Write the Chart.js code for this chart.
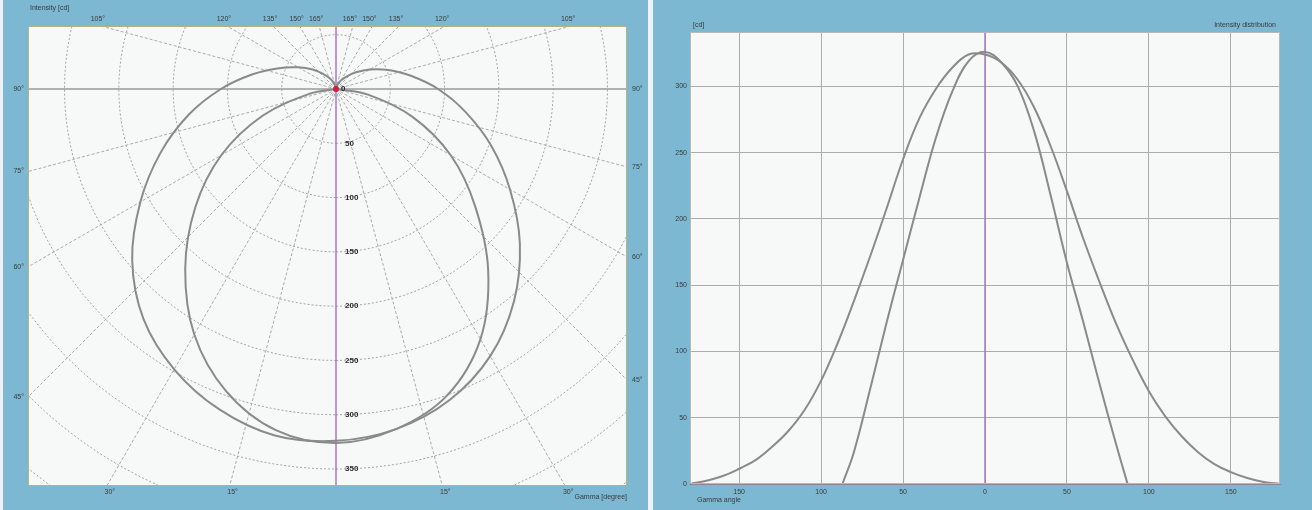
<!DOCTYPE html>
<html>
<head>
<meta charset="utf-8">
<script src="https://cdn.jsdelivr.net/npm/chart.js@4.4.0/dist/chart.umd.min.js"></script>
<style>
  html, body { margin:0; padding:0; background:#eef2f4; }
  #wrap { position:relative; width:1312px; height:510px; overflow:hidden; }
  .panel { position:absolute; top:0; height:510px; background:#7db8d2; }
  #izq { left:3px; width:645px; }
  #der { left:653px; width:659px; }
  canvas { display:block; }
</style>
</head>
<body>
<div id="wrap">
  <div class="panel" id="izq"><canvas id="polar" width="645" height="510"></canvas></div>
  <div class="panel" id="der"><canvas id="curvas" width="659" height="510"></canvas></div>
</div>
<script>
// datos (gamma en grados, intensidad en cd)
const gammaWide = [-180,-170,-160,-150,-140,-130,-120,-110,-100,-90,-80,-70,-60,-50,-40,-30,-20,-10,0,10,20,30,40,50,60,70,80,90,100,110,120,130,140,150,160,170,180];
const intensityWide = [0,2.5,6,11.5,18,28,40,56,78,106,138,172,208,245,276,298,314,324,324,318,305,284,255,221,185,152,121,94,70,51,36,24,15,9,4.5,1.5,0];
const gammaNarrow = [-87,-80,-70,-60,-50,-40,-30,-20,-10,0,10,20,30,40,50,60,70,80,87];
const intensityNarrow = [0,24,72,122,169,216,261,296,319,326,318,300,266,218,167,122,75,30,0];

const ringValues = [50,100,150,200,250,300,350,400,450];
const ringLabels = [0,50,100,150,200,250,300,350];
const spokeAngles = [0,15,30,45,60,75,90,105,120,135,150,165,180];
const xTicks = [-150,-100,-50,0,50,100,150];
const yTicks = [0,50,100,150,200,250,300];
const Y_MAX = 341;

const GRIS = "#8a8a8a";
const MORADO = "#a878c8";
const TEXTO = "#3a3a3a";
const FUENTE = "'Liberation Sans', Arial, sans-serif";

$inicio();

function $inicio() {
    dibujarPolar();
    dibujarCurvas();
}

function rad(g) { return g * Math.PI / 180; }
function aXY(g, i) { return { x: i * Math.sin(rad(g)), y: -i * Math.cos(rad(g)) }; }

function dibujarPolar() {
    // area de trazado en px del lienzo y escala px por cd
    const K = 1.086, CX = 333, CY = 89;
    const A = { left: 25, right: 624, top: 26, bottom: 486 };

    const sets = [];
    sets.push({ data: gammaWide.map((g, i) => aXY(g, intensityWide[i])), borderColor: GRIS, borderWidth: 2, tension: 0.35, order: 1 });
    sets.push({ data: gammaNarrow.map((g, i) => aXY(g, intensityNarrow[i])), borderColor: GRIS, borderWidth: 2, tension: 0.35, order: 1 });
    sets.push({ data: [{ x: 0, y: 80 }, { x: 0, y: -400 }], borderColor: MORADO, borderWidth: 1.5, order: 2 });
    sets.push({ data: [{ x: 0, y: 0 }], pointRadius: 3, pointBackgroundColor: "#d0203a", pointBorderWidth: 0, order: 0 });
    ringValues.forEach(r => {
        const pts = [];
        for (let g = 0; g <= 360; g += 3) pts.push(aXY(g, r));
        sets.push({ data: pts, borderColor: "#a4a4a4", borderWidth: 1, borderDash: [2, 2], order: 5 });
    });
    spokeAngles.forEach(a => {
        if (a === 0 || a === 180) return;
        [-1, 1].forEach(s => {
            sets.push({
                data: [{ x: 0, y: 0 }, aXY(s * a, 700)],
                borderColor: a === 90 ? "#9a9a9a" : "#aaaaaa",
                borderWidth: a === 90 ? 1.5 : 1,
                borderDash: a === 90 ? [] : [3, 2],
                order: 5
            });
        });
    });
    sets.forEach(d => { d.showLine = true; if (d.pointRadius === undefined) d.pointRadius = 0; });

    const etiquetas = {
        id: "etiquetas",
        beforeDraw(chart) {
            const c = chart.ctx, ca = chart.chartArea;
            c.save();
            c.fillStyle = "#f7f8f8";
            c.fillRect(ca.left, ca.top, ca.right - ca.left, ca.bottom - ca.top);
            c.restore();
        },
        afterDraw(chart) {
            const c = chart.ctx, ca = chart.chartArea;
            const sx = chart.scales.x, sy = chart.scales.y;
            const cx = sx.getPixelForValue(0), cy = sy.getPixelForValue(0);
            c.save();
            c.strokeStyle = "#b9b37a";
            c.lineWidth = 1;
            c.strokeRect(ca.left + 0.5, ca.top + 0.5, ca.right - ca.left - 1, ca.bottom - ca.top - 1);

            // valores radiales
            c.font = "bold 8px " + FUENTE;
            c.fillStyle = "#2a2a2a";
            c.textBaseline = "middle";
            c.textAlign = "left";
            ringLabels.forEach(v => {
                const py = sy.getPixelForValue(-v);
                if (py < ca.bottom - 4) c.fillText(String(v), cx + (v === 0 ? 5 : 9), py);
            });

            // angulos en los bordes
            c.font = "7px " + FUENTE;
            c.fillStyle = TEXTO;
            spokeAngles.forEach(a => {
                if (a === 0 || a === 180) return;
                [-1, 1].forEach(s => {
                    const dx = s * Math.sin(rad(a)), dy = Math.cos(rad(a));
                    const tx = dx > 0 ? (ca.right - cx) / dx : (ca.left - cx) / dx;
                    const ty = dy > 1e-9 ? (ca.bottom - cy) / dy : dy < -1e-9 ? (ca.top - cy) / dy : Infinity;
                    const txt = a + "°";
                    if (tx <= ty) {
                        const py = cy + tx * dy;
                        c.textBaseline = "middle";
                        if (s < 0) { c.textAlign = "right"; c.fillText(txt, ca.left - 4, py); }
                        else { c.textAlign = "left"; c.fillText(txt, ca.right + 5, py); }
                    } else {
                        const px = cx + ty * dx;
                        c.textAlign = "center";
                        if (dy > 0) { c.textBaseline = "top"; c.fillText(txt, px + 3, ca.bottom + 3); }
                        else { c.textBaseline = "bottom"; c.fillText(txt, px - 3, ca.top - 3); }
                    }
                });
            });

            c.textBaseline = "middle";
            c.textAlign = "left";
            c.fillText("Intensity [cd]", 27, 8);
            c.textAlign = "right";
            c.fillText("Gamma [degree]", 624, 497);
            c.restore();
        }
    };

    new Chart(document.getElementById("polar"), {
        type: "scatter",
        data: { datasets: sets },
        options: {
            responsive: false,
            animation: false,
            layout: { padding: { left: A.left, right: 645 - A.right, top: A.top, bottom: 510 - A.bottom } },
            plugins: { legend: { display: false }, tooltip: { enabled: false } },
            scales: {
                x: { type: "linear", display: false, min: (A.left - CX) / K, max: (A.right - CX) / K },
                y: { type: "linear", display: false, min: -(A.bottom - CY) / K, max: (CY - A.top) / K }
            }
        },
        plugins: [etiquetas]
    });
}

function dibujarCurvas() {
    const marco = {
        id: "marco",
        beforeDraw(chart) {
            const c = chart.ctx, ca = chart.chartArea;
            c.save();
            c.fillStyle = "#f7f8f8";
            c.fillRect(ca.left, ca.top, ca.right - ca.left, ca.bottom - ca.top);
            c.restore();
        },
        afterDraw(chart) {
            const c = chart.ctx, ca = chart.chartArea;
            c.save();
            c.strokeStyle = "#b8b8b8";
            c.lineWidth = 1;
            c.strokeRect(ca.left + 0.5, ca.top + 0.5, ca.right - ca.left - 1, ca.bottom - ca.top - 1);
            c.font = "7px " + FUENTE;
            c.fillStyle = TEXTO;
            c.textBaseline = "middle";
            c.textAlign = "left";
            c.fillText("[cd]", ca.left + 3, ca.top - 7);
            c.fillText("Gamma angle", ca.left + 7, 500);
            c.textAlign = "right";
            c.fillText("Intensity distribution", ca.right - 4, ca.top - 7);
            c.restore();
        }
    };

    new Chart(document.getElementById("curvas"), {
        type: "scatter",
        data: {
            datasets: [
                { data: gammaWide.map((g, i) => ({ x: g, y: intensityWide[i] })), borderColor: GRIS, borderWidth: 2, tension: 0.4, showLine: true, pointRadius: 0, order: 1 },
                { data: gammaNarrow.map((g, i) => ({ x: g, y: intensityNarrow[i] })), borderColor: GRIS, borderWidth: 2, tension: 0.4, showLine: true, pointRadius: 0, order: 1 },
                { data: [{ x: 0, y: 0 }, { x: 0, y: Y_MAX }], borderColor: MORADO, borderWidth: 1.5, showLine: true, pointRadius: 0, order: 2 }
            ]
        },
        options: {
            responsive: false,
            animation: false,
            layout: { padding: { left: 0, right: 32, top: 32, bottom: 0 } },
            plugins: { legend: { display: false }, tooltip: { enabled: false } },
            scales: {
                x: {
                    type: "linear", min: -180, max: 180,
                    afterBuildTicks: ax => { ax.ticks = xTicks.map(v => ({ value: v })); },
                    afterFit: s => { s.height = 26; },
                    grid: { color: "#acacac", lineWidth: 1, drawTicks: false },
                    border: { color: "#8a8a8a" },
                    ticks: { callback: v => Math.abs(v), font: { size: 7, family: FUENTE }, color: TEXTO, padding: 4, maxRotation: 0 }
                },
                y: {
                    type: "linear", min: 0, max: Y_MAX,
                    afterBuildTicks: ax => { ax.ticks = yTicks.map(v => ({ value: v })); },
                    afterFit: s => { s.width = 37; },
                    grid: { color: "#acacac", lineWidth: 1, drawTicks: false },
                    border: { color: "#6a6a6a" },
                    ticks: { font: { size: 7, family: FUENTE }, color: TEXTO, padding: 3 }
                }
            }
        },
        plugins: [marco]
    });
}
</script>
</body>
</html>
